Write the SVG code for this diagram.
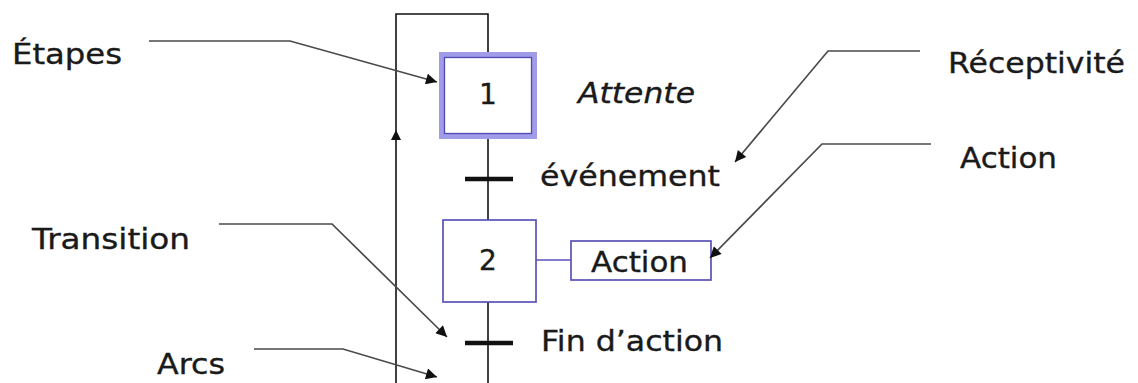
<svg xmlns="http://www.w3.org/2000/svg" width="1138" height="383" viewBox="0 0 1138 383">
  <defs>
    <marker id="head" viewBox="0 0 10 10" refX="10" refY="5" markerWidth="13" markerHeight="11" markerUnits="userSpaceOnUse" orient="auto">
      <path d="M0,0 L10,5 L0,10 Z" fill="#111"/>
    </marker>
    <marker id="flowhead" viewBox="0 0 10 10" refX="5" refY="5" markerWidth="10" markerHeight="10" markerUnits="userSpaceOnUse" orient="auto">
      <path d="M0,0 L10,5 L0,10 Z" fill="#111"/>
    </marker>
    <style>
      .t { font-family: "DejaVu Sans", Verdana, sans-serif; font-size: 28px; fill: #1a1a1a; stroke: #1a1a1a; stroke-width: 0.35; }
      .it { font-style: italic; }
      .arc { stroke: #111; stroke-width: 1.6; fill: none; }
      .bar { stroke: #111; stroke-width: 4.5; }
      .lead { stroke: #4a4a4a; stroke-width: 1.7; fill: none; }
      .step { fill: #fff; stroke: #5a52b8; stroke-width: 1.7; }
    </style>
  </defs>
  <rect width="1138" height="383" fill="#fff"/>

  <!-- sequence arcs and the return loop -->
  <g id="connectors">
    <path class="arc" d="M488,52 V14 H396 V383"/>
    <line class="arc" x1="396" y1="140" x2="396" y2="135" marker-end="url(#flowhead)"/>
    <line class="arc" x1="488" y1="139" x2="488" y2="220"/>
    <line class="arc" x1="488" y1="302" x2="488" y2="383"/>
    <line class="arc" x1="536" y1="260" x2="571" y2="260" style="stroke:#5a52b8"/>
  </g>

  <!-- initial step -->
  <g id="step1">
    <rect x="441.5" y="54.5" width="93" height="82" fill="#fff" stroke="#a09ce8" stroke-width="5"/>
    <rect x="444.5" y="57.5" width="87" height="76" fill="none" stroke="#5048b4" stroke-width="1.3"/>
    <text class="t" x="488" y="104" text-anchor="middle">1</text>
    <text class="t it" x="578" y="103" textLength="117" lengthAdjust="spacingAndGlyphs">Attente</text>
  </g>

  <!-- first transition -->
  <g id="transition1">
    <line class="bar" x1="465" y1="179" x2="513" y2="179"/>
    <text class="t" x="540" y="186" textLength="180" lengthAdjust="spacingAndGlyphs">événement</text>
  </g>

  <!-- second step with its action -->
  <g id="step2">
    <rect class="step" x="443" y="220" width="93" height="82"/>
    <text class="t" x="488" y="270" text-anchor="middle">2</text>
  </g>
  <g id="action">
    <rect class="step" x="571" y="241" width="140" height="39"/>
    <text class="t" x="591" y="272" textLength="97" lengthAdjust="spacingAndGlyphs">Action</text>
  </g>

  <!-- second transition -->
  <g id="transition2">
    <line class="bar" x1="465" y1="343" x2="513" y2="343"/>
    <text class="t" x="541" y="351" textLength="182" lengthAdjust="spacingAndGlyphs">Fin d’action</text>
  </g>

  <!-- callout labels -->
  <g id="label-etapes">
    <text class="t" x="12" y="64" textLength="110" lengthAdjust="spacingAndGlyphs">Étapes</text>
    <polyline class="lead" points="149,41 290,41 437,82" marker-end="url(#head)"/>
  </g>
  <g id="label-transition">
    <text class="t" x="32" y="249" textLength="158" lengthAdjust="spacingAndGlyphs">Transition</text>
    <polyline class="lead" points="219,224 332,224 447,337" marker-end="url(#head)"/>
  </g>
  <g id="label-arcs">
    <text class="t" x="157" y="374" textLength="68" lengthAdjust="spacingAndGlyphs">Arcs</text>
    <polyline class="lead" points="254,349 343,349 437,377" marker-end="url(#head)"/>
  </g>
  <g id="label-receptivite">
    <text class="t" x="948" y="73" textLength="177" lengthAdjust="spacingAndGlyphs">Réceptivité</text>
    <polyline class="lead" points="920,51 828,51 735,162" marker-end="url(#head)"/>
  </g>
  <g id="label-action">
    <text class="t" x="960" y="168" textLength="97" lengthAdjust="spacingAndGlyphs">Action</text>
    <polyline class="lead" points="931,144 822,144 710,258" marker-end="url(#head)"/>
  </g>
</svg>
